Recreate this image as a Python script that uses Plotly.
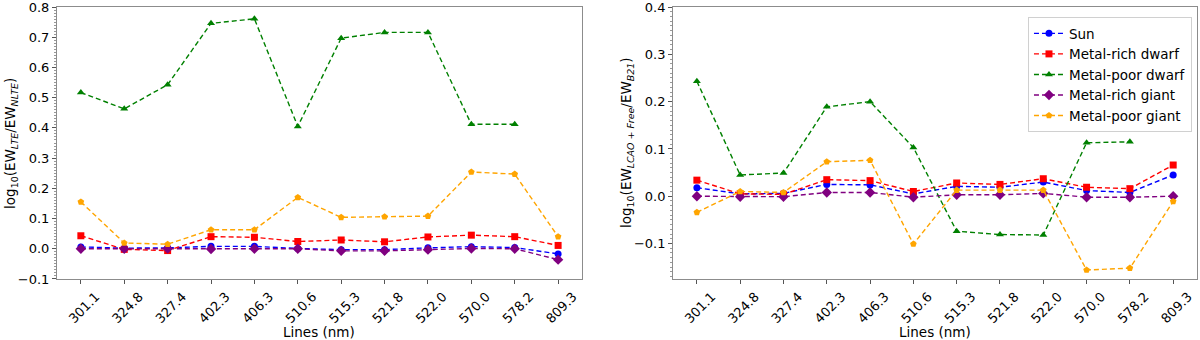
import plotly.graph_objects as go
from plotly.subplots import make_subplots

lines_nm = ["301.1", "324.8", "327.4", "402.3", "406.3", "510.6",
            "515.3", "521.8", "522.0", "570.0", "578.2", "809.3"]

star_names = ["Sun", "Metal-rich dwarf", "Metal-poor dwarf",
              "Metal-rich giant", "Metal-poor giant"]

# left panel: log10(EW_LTE / EW_NLTE)
lte_sun = [0.006, 0.002, 0.003, 0.008, 0.008, 0.001, -0.003, -0.003, 0.003, 0.007, 0.004, -0.017]
lte_mr_dwarf = [0.043, -0.002, -0.006, 0.040, 0.038, 0.024, 0.029, 0.023, 0.039, 0.045, 0.040, 0.011]
lte_mp_dwarf = [0.517, 0.463, 0.543, 0.746, 0.761, 0.405, 0.697, 0.716, 0.716, 0.412, 0.412, None]
lte_mr_giant = [0.0, 0.0, 0.001, -0.001, 0.0, 0.0, -0.007, -0.007, -0.003, 0.001, 0.0, -0.036]
lte_mp_giant = [0.155, 0.019, 0.015, 0.063, 0.063, 0.170, 0.104, 0.106, 0.108, 0.254, 0.247, 0.040]

# right panel: log10(EW_LCAO+Free / EW_B21)
lcao_sun = [0.018, 0.005, 0.006, 0.025, 0.024, 0.005, 0.021, 0.019, 0.030, 0.012, 0.008, 0.045]
lcao_mr_dwarf = [0.034, 0.005, 0.004, 0.035, 0.033, 0.010, 0.028, 0.025, 0.037, 0.019, 0.016, 0.066]
lcao_mp_dwarf = [0.243, 0.045, 0.049, 0.189, 0.200, 0.103, -0.074, -0.081, -0.082, 0.113, 0.115, None]
lcao_mr_giant = [0.0, -0.001, -0.001, 0.008, 0.008, -0.002, 0.003, 0.003, 0.006, -0.002, -0.002, 0.0]
lcao_mp_giant = [-0.034, 0.010, 0.008, 0.073, 0.076, -0.101, 0.013, 0.013, 0.013, -0.156, -0.152, -0.011]

x_title = "Lines (nm)"
y_titles = ["log<sub>10</sub>(EW<sub><i>LTE</i></sub>/EW<sub><i>NLTE</i></sub>)",
            "log<sub>10</sub>(EW<sub><i>LCAO + Free</i></sub>/EW<sub><i>B21</i></sub>)"]

colors = ["blue", "red", "green", "purple", "orange"]
symbols = ["circle", "square", "triangle-up", "diamond", "pentagon"]
sizes = [7, 7, 7, 8, 7]

left_sets = [lte_sun, lte_mr_dwarf, lte_mp_dwarf, lte_mr_giant, lte_mp_giant]
right_sets = [lcao_sun, lcao_mr_dwarf, lcao_mp_dwarf, lcao_mr_giant, lcao_mp_giant]

fig = make_subplots(rows=1, cols=2)

for col, sets in [(1, left_sets), (2, right_sets)]:
    for i, vals in enumerate(sets):
        fig.add_trace(go.Scatter(
            x=lines_nm, y=vals, mode="lines+markers", name=star_names[i],
            line=dict(color=colors[i], width=1.4, dash="5px,3px"),
            marker=dict(color=colors[i], symbol=symbols[i], size=sizes[i]),
            showlegend=(col == 2), connectgaps=False,
        ), row=1, col=col)

axis_style = dict(showline=True, mirror=True, linecolor="#8c8c8c", linewidth=1,
                  ticks="outside", ticklen=4, tickcolor="#555555", showgrid=False,
                  zeroline=False, automargin=False, ticklabeloverflow="allow",
                  tickfont=dict(size=13, color="black"))

# matplotlib centres rotated labels under the tick, so nudge them right
fig.update_xaxes(**axis_style, tickangle=-45, range=[-0.55, 11.55], ticklabelshift=15)
fig.update_yaxes(**axis_style,
                 minor=dict(ticks="outside", ticklen=2, tickcolor="#999999", dtick=0.01))

left_dom = [0.0, 0.4605]
right_dom = [0.5404, 1.0]
fig.update_xaxes(domain=left_dom, row=1, col=1)
fig.update_xaxes(domain=right_dom, row=1, col=2)

fig.update_yaxes(range=[-0.1001, 0.8001], dtick=0.1, tickformat=".1f", row=1, col=1)
fig.update_yaxes(range=[-0.175, 0.4001], dtick=0.1, tickformat=".1f", row=1, col=2)

# axis titles as annotations so they sit where matplotlib put them
for dom, ytx, yt in [(left_dom, -0.0404, y_titles[0]),
                     (right_dom, 0.5, y_titles[1])]:
    fig.add_annotation(text=x_title, xref="paper", yref="paper",
                       x=(dom[0] + dom[1]) / 2, y=-0.195, xanchor="center", yanchor="middle",
                       showarrow=False, font=dict(size=13.5, color="black"))
    fig.add_annotation(text=yt, xref="paper", yref="paper", textangle=-90,
                       x=ytx, y=0.5, xanchor="center", yanchor="middle",
                       showarrow=False, font=dict(size=13.5, color="black"))

fig.update_layout(
    width=1200, height=340,
    margin=dict(l=57, r=3, t=7, b=61),
    paper_bgcolor="white", plot_bgcolor="white",
    font=dict(family="DejaVu Sans", color="black", size=13.5),
    legend=dict(x=0.9956, y=0.963, xanchor="right", yanchor="top",
                bordercolor="#d0d0d0", borderwidth=1, bgcolor="white",
                font=dict(size=13.5), tracegroupgap=0, itemwidth=30),
)

fig.write_html("out.html", config={"displayModeBar": False},
               post_script="document.body.style.margin='0px';")
